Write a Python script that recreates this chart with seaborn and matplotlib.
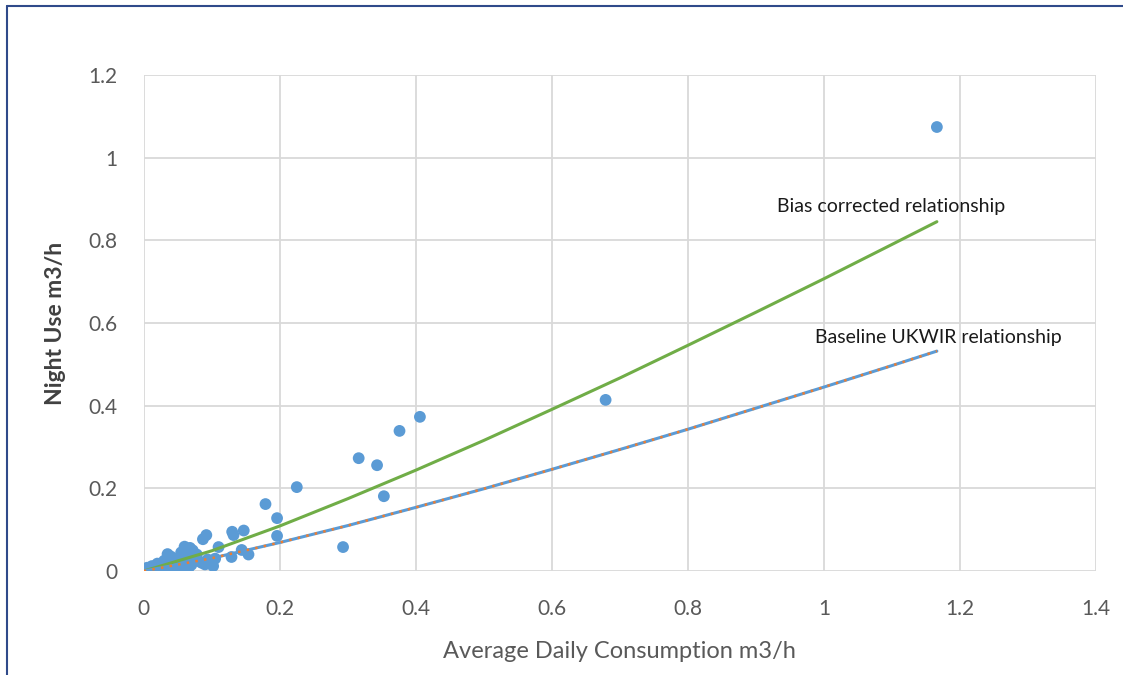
import numpy as np
import pandas as pd
import matplotlib.pyplot as plt
from matplotlib.lines import Line2D
import seaborn as sns

# Observed meters: average daily consumption vs night use (m3/h)
adc = [1.166, 0.679, 0.406, 0.376, 0.316, 0.343, 0.225, 0.353, 0.179, 0.196,
       0.196, 0.293, 0.147, 0.130, 0.132, 0.092, 0.087, 0.144, 0.154, 0.129,
       0.110, 0.060, 0.068, 0.072, 0.035, 0.040, 0.050, 0.055, 0.062, 0.075,
       0.080, 0.097, 0.100, 0.090, 0.102, 0.094, 0.085, 0.065, 0.058, 0.070,
       0.045, 0.048, 0.038, 0.030, 0.028, 0.025, 0.020, 0.018, 0.015, 0.012,
       0.010, 0.008, 0.005, 0.003, 0.002, 0.000, 0.006, 0.022, 0.033, 0.042,
       0.052, 0.064, 0.078, 0.067, 0.057, 0.013, 0.105]
night = [1.074, 0.414, 0.373, 0.339, 0.273, 0.256, 0.203, 0.181, 0.162, 0.128,
         0.085, 0.058, 0.098, 0.095, 0.087, 0.087, 0.077, 0.051, 0.040, 0.034,
         0.058, 0.059, 0.056, 0.050, 0.041, 0.035, 0.030, 0.045, 0.038, 0.030,
         0.025, 0.019, 0.023, 0.016, 0.012, 0.028, 0.020, 0.002, 0.010, 0.015,
         0.020, 0.008, 0.012, 0.025, 0.015, 0.008, 0.018, 0.010, 0.004, 0.012,
         0.006, 0.002, 0.008, 0.000, 0.004, 0.001, 0.000, 0.003, 0.006, 0.027,
         0.022, 0.026, 0.040, 0.032, 0.015, 0.000, 0.030]

# Relationship curves
curve_x = [0, 0.1, 0.2, 0.3, 0.4, 0.5, 0.6, 0.7, 0.8, 0.9, 1.0, 1.1, 1.166]
bias_corrected = [0, 0.049, 0.109, 0.175, 0.244, 0.316, 0.391, 0.467, 0.546,
                  0.626, 0.707, 0.790, 0.845]
baseline = [0, 0.031, 0.069, 0.110, 0.154, 0.199, 0.246, 0.294, 0.343,
            0.394, 0.445, 0.497, 0.532]

pts = pd.DataFrame({'adc': adc, 'night': night})
curves = pd.DataFrame({'x': curve_x, 'bias': bias_corrected, 'base': baseline})

sns.set_style('white')
plt.rcParams['font.family'] = ['Lato', 'DejaVu Sans']

fig = plt.figure(figsize=(11.23, 6.75), dpi=100)
ax = fig.add_axes([0.128, 0.154, 0.848, 0.735])

sns.scatterplot(data=pts, x='adc', y='night', ax=ax, color='#5B9BD5',
                s=72, edgecolor='none', zorder=3)
sns.lineplot(data=curves, x='x', y='bias', ax=ax, color='#70AD47', lw=2.2, zorder=4)
sns.lineplot(data=curves, x='x', y='base', ax=ax, color='#5B9BD5', lw=2.2, zorder=4)
sns.lineplot(data=curves, x='x', y='base', ax=ax, color='#ED7D31', lw=1.8,
             linestyle=(0, (1, 2.5)), zorder=5)

ax.text(0.931, 0.881, 'Bias corrected relationship', fontsize=14, color='#1a1a1a',
        va='center', ha='left')
ax.text(0.987, 0.566, 'Baseline UKWIR relationship', fontsize=14, color='#1a1a1a',
        va='center', ha='left')

ax.set_xlim(0, 1.4)
ax.set_ylim(0, 1.2)
ax.set_xticks(np.arange(0, 1.41, 0.2))
ax.set_yticks(np.arange(0, 1.21, 0.2))
ax.set_xticklabels(['0', '0.2', '0.4', '0.6', '0.8', '1', '1.2', '1.4'])
ax.set_yticklabels(['0', '0.2', '0.4', '0.6', '0.8', '1', '1.2'])
ax.tick_params(axis='both', length=0, labelsize=15, labelcolor='#595959')
ax.tick_params(axis='y', pad=19)
ax.tick_params(axis='x', pad=20)
ax.grid(True, color='#D9D9D9', lw=1.3)
ax.set_axisbelow(True)
for s in ax.spines.values():
    s.set_visible(False)

ax.set_xlabel('Average Daily Consumption m3/h', fontsize=17, color='#595959', labelpad=16)
ax.set_ylabel('Night Use m3/h', fontsize=16.5, color='#404040', fontweight='bold', labelpad=16)

# outer chart border (left and top visible)
fig.add_artist(Line2D([7 / 1123, 7 / 1123], [0, 1 - 6 / 675], color='#2F4A8A', lw=1.5))
fig.add_artist(Line2D([7 / 1123, 1], [1 - 6 / 675, 1 - 6 / 675], color='#2F4A8A', lw=1.5))

fig.savefig('out.png', dpi=100)
